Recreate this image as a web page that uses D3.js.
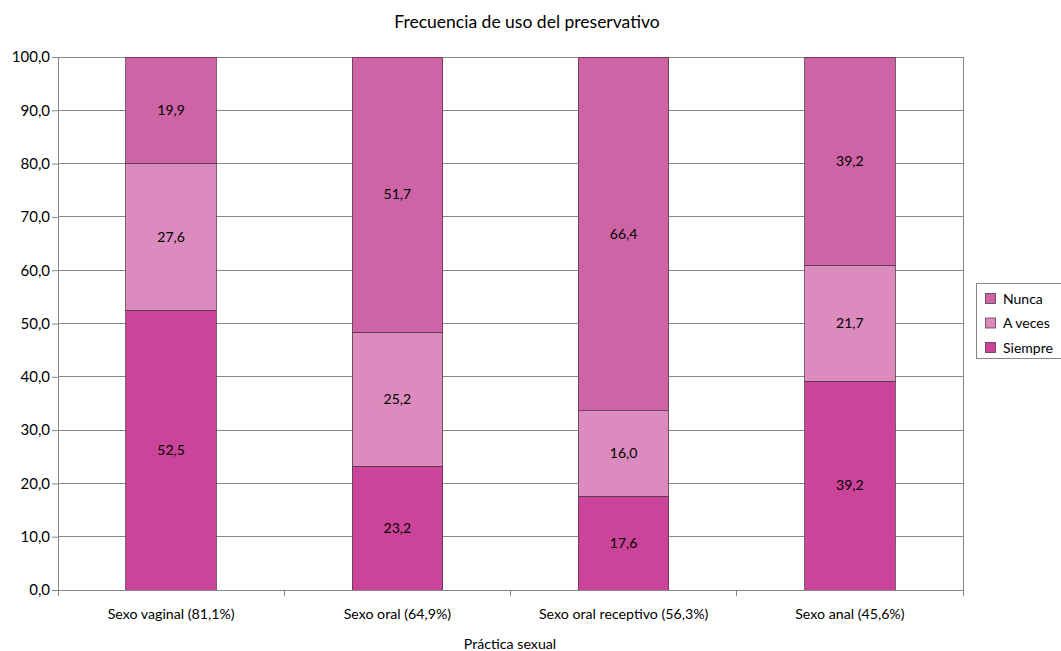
<!DOCTYPE html>
<html><head><meta charset="utf-8">
<script src="https://cdn.jsdelivr.net/npm/d3@7"></script>
<style>body{margin:0;background:#fff;} text{font-family:Lato, "Open Sans", sans-serif;fill:#000;}</style>
</head><body>
<svg id="c" width="1061" height="651"></svg>
<script>
const categories = ["Sexo vaginal (81,1%)", "Sexo oral (64,9%)", "Sexo oral receptivo (56,3%)", "Sexo anal (45,6%)"];
const seriesNames = ["Siempre", "A veces", "Nunca"];
const siempre = [52.5, 23.2, 17.6, 39.2];
const aVeces = [27.6, 25.2, 16.0, 21.7];
const nunca = [19.9, 51.7, 66.4, 39.2];
const yTicks = [0,10,20,30,40,50,60,70,80,90,100];
const colors = {"Siempre":"#CC4499","A veces":"#DB8BBD","Nunca":"#CE64A6"};

const svg = d3.select("#c");
const L = 58, R = 963, T = 57, B = 590;
const x = d3.scaleBand().domain(categories).range([L, R]).paddingInner(0.6).paddingOuter(0.3);
const xb = d3.scaleBand().domain(categories).range([L, R]);
const y = d3.scaleLinear().domain([0,100]).range([B, T]);

// gridlines
svg.append("g").selectAll("line").data(yTicks).join("line")
  .attr("x1", L).attr("x2", R).attr("y1", d=>y(d)).attr("y2", d=>y(d))
  .attr("stroke", "#868686").attr("stroke-width", 1).attr("shape-rendering","crispEdges");
svg.append("line").attr("x1", R).attr("x2", R).attr("y1", T).attr("y2", B)
  .attr("stroke", "#868686").attr("shape-rendering","crispEdges");

const rows = categories.map((c,i)=>({cat:c, "Siempre":siempre[i], "A veces":aVeces[i], "Nunca":nunca[i]}));
const stack = d3.stack().keys(seriesNames)(rows);

const g = svg.append("g");
stack.forEach(layer=>{
  g.selectAll(null).data(layer).join("rect")
    .attr("x", d=>x(d.data.cat)).attr("width", x.bandwidth())
    .attr("y", d=>y(Math.min(100,d[1]))).attr("height", d=>y(d[0])-y(Math.min(100,d[1])))
    .attr("fill", colors[layer.key]).attr("stroke", "#5a3a4a").attr("stroke-width", 0.8)
    .attr("shape-rendering","crispEdges");
  g.selectAll(null).data(layer).join("text")
    .attr("x", d=>x(d.data.cat)+x.bandwidth()/2)
    .attr("y", d=>(y(d[0])+y(Math.min(100,d[1])))/2)
    .attr("dy","0.35em").attr("text-anchor","middle").attr("font-size", 14)
    .text(d=>d3.format(".1f")(d[1]-d[0]).replace(".", ","));
});

// y axis
const yAxis = d3.axisLeft(y).tickValues(yTicks).tickSize(6).tickFormat(d=>d3.format(".1f")(d).replace(".", ","));
const ya = svg.append("g").attr("transform", `translate(${L},0)`).call(yAxis);
ya.select(".domain").attr("stroke","#868686");
ya.selectAll(".tick line").attr("stroke","#868686");
ya.selectAll("text").attr("font-size", 15).attr("font-family","Lato, sans-serif").attr("fill","#000").attr("x",-8);

// x axis
const xa = svg.append("g").attr("transform", `translate(0,${B})`);
xa.append("line").attr("x1", L).attr("x2", R).attr("stroke","#868686").attr("shape-rendering","crispEdges");
const bounds = categories.map(c=>xb(c)).concat([R]);
xa.selectAll("line.t").data(bounds).join("line").attr("class","t")
  .attr("x1", d=>d).attr("x2", d=>d).attr("y1",0).attr("y2",6).attr("stroke","#868686").attr("shape-rendering","crispEdges");
xa.selectAll("text").data(categories).join("text")
  .attr("x", d=>xb(d)+xb.bandwidth()/2).attr("y", 29).attr("text-anchor","middle").attr("font-size", 14.2)
  .text(d=>d);

svg.append("text").attr("x", 527).attr("y", 28).attr("text-anchor","middle").attr("font-size", 17.5).text("Frecuencia de uso del preservativo");
svg.append("text").attr("x", 510).attr("y", 649).attr("text-anchor","middle").attr("font-size", 14.2).text("Práctica sexual");

// legend
const lg = svg.append("g");
lg.append("rect").attr("x", 976.5).attr("y", 283.5).attr("width", 90).attr("height", 75)
  .attr("fill","#fff").attr("stroke","#868686");
const legOrder = ["Nunca","A veces","Siempre"];
legOrder.forEach((k,i)=>{
  const yy = 299 + i*24.5;
  lg.append("rect").attr("x", 985.5).attr("y", yy-5.5).attr("width", 10).attr("height", 10)
    .attr("fill", colors[k]).attr("stroke","#5a3a4a").attr("stroke-width",0.8);
  lg.append("text").attr("x", 1003).attr("y", yy).attr("dy","0.35em").attr("font-size", 14).text(k);
});
</script>
</body></html>
